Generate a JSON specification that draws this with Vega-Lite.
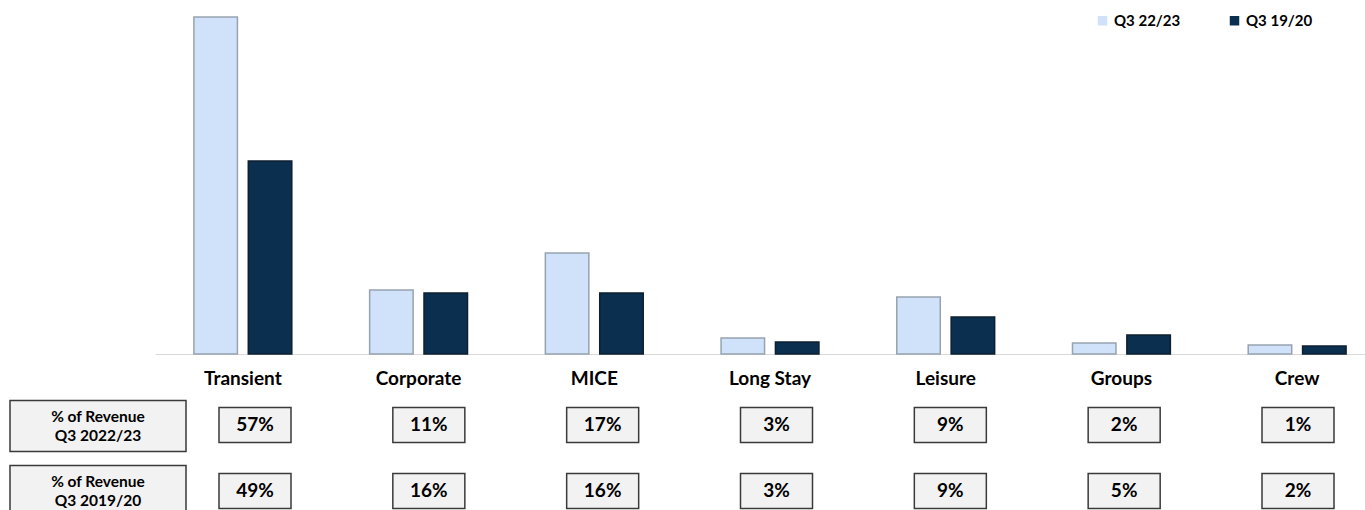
{
  "$schema": "https://vega.github.io/schema/vega-lite/v6.json",
  "width": 1365,
  "height": 510,
  "padding": 0,
  "autosize": {"type": "none"},
  "background": "white",
  "config": {"view": {"stroke": null}, "font": "Lato"},
  "datasets": {
    "revenue": [
      {"segment": "Transient", "period": "Q3 22/23", "revenue": 337},
      {"segment": "Transient", "period": "Q3 19/20", "revenue": 193},
      {"segment": "Corporate", "period": "Q3 22/23", "revenue": 64},
      {"segment": "Corporate", "period": "Q3 19/20", "revenue": 61},
      {"segment": "MICE", "period": "Q3 22/23", "revenue": 101},
      {"segment": "MICE", "period": "Q3 19/20", "revenue": 61},
      {"segment": "Long Stay", "period": "Q3 22/23", "revenue": 16},
      {"segment": "Long Stay", "period": "Q3 19/20", "revenue": 12},
      {"segment": "Leisure", "period": "Q3 22/23", "revenue": 57},
      {"segment": "Leisure", "period": "Q3 19/20", "revenue": 37},
      {"segment": "Groups", "period": "Q3 22/23", "revenue": 11},
      {"segment": "Groups", "period": "Q3 19/20", "revenue": 19},
      {"segment": "Crew", "period": "Q3 22/23", "revenue": 9},
      {"segment": "Crew", "period": "Q3 19/20", "revenue": 8}
    ],
    "share": [
      {"segment": "Transient", "row": "Q3 2022/23", "pct": "57%"},
      {"segment": "Corporate", "row": "Q3 2022/23", "pct": "11%"},
      {"segment": "MICE", "row": "Q3 2022/23", "pct": "17%"},
      {"segment": "Long Stay", "row": "Q3 2022/23", "pct": "3%"},
      {"segment": "Leisure", "row": "Q3 2022/23", "pct": "9%"},
      {"segment": "Groups", "row": "Q3 2022/23", "pct": "2%"},
      {"segment": "Crew", "row": "Q3 2022/23", "pct": "1%"},
      {"segment": "Transient", "row": "Q3 2019/20", "pct": "49%"},
      {"segment": "Corporate", "row": "Q3 2019/20", "pct": "16%"},
      {"segment": "MICE", "row": "Q3 2019/20", "pct": "16%"},
      {"segment": "Long Stay", "row": "Q3 2019/20", "pct": "3%"},
      {"segment": "Leisure", "row": "Q3 2019/20", "pct": "9%"},
      {"segment": "Groups", "row": "Q3 2019/20", "pct": "5%"},
      {"segment": "Crew", "row": "Q3 2019/20", "pct": "2%"}
    ],
    "captions": [
      {"head": "% of Revenue", "row": "Q3 2022/23", "caption": "% of Revenue\nQ3 2022/23"},
      {"head": "% of Revenue", "row": "Q3 2019/20", "caption": "% of Revenue\nQ3 2019/20"}
    ]
  },
  "layer": [
    {
      "data": {"name": "revenue"},
      "mark": {"type": "bar", "strokeWidth": 1.5},
      "encoding": {
        "x": {
          "field": "segment", "type": "nominal", "sort": null,
          "scale": {"range": [155, 1385], "paddingInner": 0.443, "paddingOuter": 0.2215},
          "axis": {
            "title": null, "orient": "bottom", "offset": -156,
            "ticks": false, "tickSize": 0, "labelPadding": 15, "labelAngle": 0,
            "labelFont": "Lato", "labelFontWeight": "bold", "labelFontSize": 19,
            "labelColor": "#000000", "domainColor": "#d9d9d9", "domainWidth": 1
          }
        },
        "xOffset": {"field": "period", "type": "nominal", "sort": null, "scale": {"paddingInner": 0.2}},
        "y": {
          "field": "revenue", "type": "quantitative",
          "scale": {"domain": [0, 340], "range": [354, 14], "nice": false},
          "axis": null
        },
        "color": {
          "field": "period", "type": "nominal", "sort": null,
          "scale": {"domain": ["Q3 22/23", "Q3 19/20"], "range": ["#cfe2fa", "#0a2f4f"]},
          "legend": {
            "title": null, "orient": "none", "legendX": 1095, "legendY": 13,
            "direction": "horizontal", "symbolType": "square", "symbolSize": 90,
            "symbolStrokeWidth": 0, "labelFont": "Lato", "labelFontWeight": "bold",
            "labelFontSize": 15, "labelColor": "#000000", "labelOffset": 4, "columnPadding": 46
          }
        },
        "stroke": {
          "field": "period", "type": "nominal", "sort": null,
          "scale": {"domain": ["Q3 22/23", "Q3 19/20"], "range": ["#98a2ae", "#0d1f30"]},
          "legend": null
        }
      }
    },
    {
      "data": {"name": "captions"},
      "mark": {"type": "rect", "fill": "#f2f2f2", "stroke": "#3a3a3a", "strokeWidth": 1.5, "width": 176, "height": 51},
      "encoding": {
        "x": {"field": "head", "type": "nominal", "scale": {"type": "point", "range": [98, 98], "padding": 0}, "axis": null},
        "y": {"field": "row", "type": "nominal", "sort": null, "scale": {"type": "point", "range": [426, 491], "padding": 0}, "axis": null}
      }
    },
    {
      "data": {"name": "captions"},
      "mark": {"type": "text", "lineBreak": "\n", "font": "Lato", "fontWeight": "bold", "fontSize": 15.5, "lineHeight": 19, "dy": -9, "color": "#000000", "baseline": "middle"},
      "encoding": {
        "x": {"field": "head", "type": "nominal", "scale": {"type": "point", "range": [98, 98], "padding": 0}, "axis": null},
        "y": {"field": "row", "type": "nominal", "sort": null, "scale": {"type": "point", "range": [426, 491], "padding": 0}, "axis": null},
        "text": {"field": "caption"}
      }
    },
    {
      "data": {"name": "share"},
      "mark": {"type": "rect", "fill": "#f2f2f2", "stroke": "#3a3a3a", "strokeWidth": 1.5, "width": 72, "height": 35},
      "encoding": {
        "x": {"field": "segment", "type": "nominal", "sort": null, "scale": {"type": "point", "range": [255, 1298], "padding": 0}, "axis": null},
        "y": {"field": "row", "type": "nominal", "sort": null, "scale": {"type": "point", "range": [425, 491], "padding": 0}, "axis": null}
      }
    },
    {
      "data": {"name": "share"},
      "mark": {"type": "text", "font": "Lato", "fontWeight": "bold", "fontSize": 19, "color": "#000000", "baseline": "middle"},
      "encoding": {
        "x": {"field": "segment", "type": "nominal", "sort": null, "scale": {"type": "point", "range": [255, 1298], "padding": 0}, "axis": null},
        "y": {"field": "row", "type": "nominal", "sort": null, "scale": {"type": "point", "range": [425, 491], "padding": 0}, "axis": null},
        "text": {"field": "pct"}
      }
    }
  ],
  "resolve": {"scale": {"x": "independent", "y": "independent"}}
}
